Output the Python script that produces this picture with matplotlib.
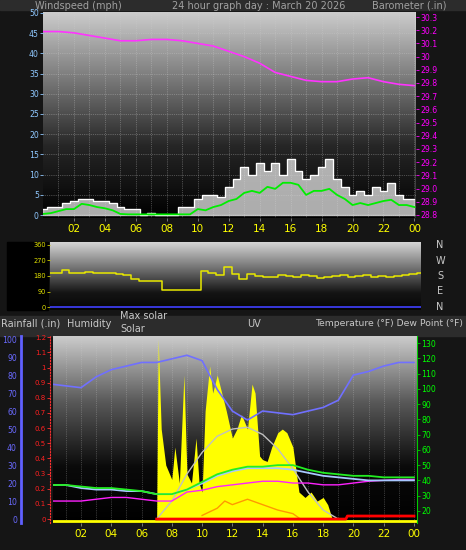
import numpy as np
import matplotlib
matplotlib.use("Agg")
import matplotlib.pyplot as plt

# ---------------- data ----------------
hours_h = list(range(25))
t_half = [i * 0.5 for i in range(49)]

barometer = [30.19, 30.19, 30.18, 30.16, 30.14, 30.12, 30.12, 30.13, 30.13, 30.12,
             30.10, 30.08, 30.04, 30.00, 29.95, 29.88, 29.85, 29.82, 29.81, 29.81,
             29.83, 29.84, 29.81, 29.79, 29.78]
wind_avg = [0.3, 0.5, 1.0, 1.5, 1.5, 2.8, 2.5, 2.0, 1.7, 1.2, 0.3, 0.2, 0.2, 0.2, 0.2, 0.2,
            0.2, 0.2, 0.2, 0.2, 1.5, 1.2, 2.0, 2.5, 3.5, 4.0, 5.5, 6.0, 5.5, 7.0, 6.5, 8.0,
            8.0, 7.5, 5.0, 6.0, 6.0, 6.5, 5.0, 4.0, 2.5, 3.0, 2.5, 3.0, 3.5, 3.8, 2.5, 2.5, 2.0]
wind_gust = [1.5, 2.0, 2.0, 3.0, 3.5, 4.0, 4.0, 3.5, 3.5, 3.0, 2.0, 1.5, 1.5, 0.0, 0.5, 0.0,
             0.0, 0.0, 2.0, 2.0, 4.0, 5.0, 5.0, 4.5, 7.0, 9.0, 12.0, 10.0, 13.0, 11.0, 13.0, 10.0,
             14.0, 11.0, 9.0, 10.0, 12.0, 14.0, 9.0, 7.0, 5.0, 6.0, 5.0, 7.0, 6.0, 8.0, 5.0, 4.0, 4.0]
wind_dir = [200, 195, 215, 200, 200, 205, 195, 200, 195, 190, 185, 160, 150, 150, 150, 100,
            100, 100, 100, 100, 210, 200, 185, 230, 190, 160, 190, 180, 175, 175, 185, 180,
            175, 185, 180, 170, 175, 180, 185, 175, 180, 185, 175, 180, 175, 180, 185, 190, 195]

humidity = [75, 74, 73, 79, 83, 85, 87, 87, 89, 91, 88, 72, 60, 55, 60, 59, 58, 60, 62, 66,
            80, 82, 85, 87, 87]
temperature = [37, 37, 36, 35, 35, 34, 33, 31, 31, 34, 39, 44, 47, 49, 49, 50, 50, 47, 45, 44,
               43, 43, 42, 42, 42]
dew_point = [37, 37, 35, 34, 34, 33, 33, 31, 31, 34, 38, 43, 46, 48, 48, 48, 47, 45, 43, 42,
             41, 40, 40, 40, 40]
magenta_pct = [10, 10, 10, 11, 12, 12, 11, 10, 10, 15, 16, 18, 19, 20, 21, 21, 20, 20, 19, 19,
               20, 21, 21.5, 22, 22]

solar_t = [0, 7.0, 7.1, 7.3, 7.6, 8.0, 8.2, 8.5, 8.8, 9.0, 9.3, 9.6, 9.8, 10.0, 10.2, 10.5,
           10.7, 11.0, 11.3, 11.6, 12.0, 12.3, 12.6, 13.0, 13.3, 13.5, 13.8, 14.0, 14.3, 14.6,
           15.0, 15.3, 15.6, 16.0, 16.4, 16.8, 17.2, 17.6, 18.0, 18.3, 18.6, 24]
solar_pct = [0, 0, 100, 50, 30, 22, 40, 20, 80, 25, 20, 45, 20, 15, 60, 85, 70, 80, 70, 60,
             45, 50, 58, 50, 75, 70, 35, 33, 32, 40, 48, 50, 48, 40, 15, 12, 15, 10, 12, 8, 0, 0]
maxsolar_t = [7, 8, 9, 10, 11, 12, 13, 14, 15, 16, 17, 18, 19]
maxsolar_pct = [0, 10, 25, 37, 46, 50, 51, 47, 39, 28, 15, 5, 0]
uv_t = [10, 11, 11.5, 12, 13, 14, 15, 16, 16.5]
uv_pct = [2, 6, 10, 8, 11, 8, 5, 3, 0]
rain_t = [7, 19.5, 19.6, 24]
rain_in = [0, 0, 0.02, 0.02]

xtick_labels = ["02", "04", "06", "08", "10", "12", "14", "16", "18", "20", "22", "00"]
xtick_pos = [2, 4, 6, 8, 10, 12, 14, 16, 18, 20, 22, 24]

# ---------------- figure ----------------
W, H = 466, 550
fig = plt.figure(figsize=(W / 100, H / 100), dpi=100, facecolor="#151515")

def fr(x0, y0, x1, y1):
    return [x0 / W, 1 - y1 / H, (x1 - x0) / W, (y1 - y0) / H]

def gradient(ax, stops):
    g = np.interp(np.linspace(0, 1, 256), [s[0] for s in stops], [s[1] for s in stops])
    img = np.stack([g, g, g], axis=-1)[:, None, :].repeat(2, axis=1)
    ax.imshow(img, extent=[0, 1, 0, 1], transform=ax.transAxes, aspect="auto", zorder=0,
              origin="lower")

TXT = "#c8c8c8"
fs = 5.6

# header strips
fig.patches.append(plt.Rectangle((0, 1 - 10 / H), 1, 10 / H, transform=fig.transFigure,
                                 color="#2c2c2c", zorder=-1))
fig.patches.append(plt.Rectangle((0, 1 - 336 / H), 1, 20 / H, transform=fig.transFigure,
                                 color="#2c2c2c", zorder=-1))
fig.patches.append(plt.Rectangle((7 / W, 1 - 310 / H), 41 / W, 68 / H, transform=fig.transFigure,
                                 color="black", zorder=-1))
fig.text(35 / W, 1 - 6 / H, "Windspeed (mph)", color="#a0a0a0", fontsize=7, va="center")
fig.text(172 / W, 1 - 6 / H, "24 hour graph day : March 20 2026", color="#a0a0a0", fontsize=7, va="center")
fig.text(372 / W, 1 - 6 / H, "Barometer (.in)", color="#a0a0a0", fontsize=7, va="center")
fig.text(1 / W, 1 - 324 / H, "Rainfall (.in)", color=TXT, fontsize=7, va="center")
fig.text(67 / W, 1 - 324 / H, "Humidity", color=TXT, fontsize=7, va="center")
fig.text(120 / W, 1 - 316 / H, "Max solar", color=TXT, fontsize=7, va="center")
fig.text(120 / W, 1 - 329 / H, "Solar", color=TXT, fontsize=7, va="center")
fig.text(247 / W, 1 - 324 / H, "UV", color=TXT, fontsize=7, va="center")
fig.text(463 / W, 1 - 324 / H, "Temperature (°F) Dew Point (°F)", color=TXT, fontsize=6.7,
         va="center", ha="right")

def style(ax):
    for s in ax.spines.values():
        s.set_visible(False)
    ax.tick_params(length=2, width=0.6, labelsize=fs, pad=1)

# ---------- top panel ----------
ax1 = fig.add_axes(fr(43, 12, 416, 218))
gradient(ax1, [(0, 0.0), (0.35, 0.15), (1, 0.8)])
ax1.set_xlim(0, 24.1)
ax1.set_ylim(-0.7, 50.2)
style(ax1)
ax1.set_yticks(range(0, 51, 5))
ax1.tick_params(axis="y", colors="#8fc8ff", labelcolor="#8fc8ff")
ax1.set_xticks(xtick_pos)
ax1.set_xticklabels(xtick_labels, fontsize=7.5)
ax1.tick_params(axis="x", colors="#888888", labelcolor="yellow", pad=2)
for h in range(1, 25):
    ax1.axvline(h, color="#d0d0d0", ls=":", lw=0.5, alpha=0.6, zorder=1)
for v in range(0, 51, 5):
    ax1.axhline(v, color="#d0d0d0", ls=":", lw=0.5, alpha=0.6, zorder=1)
ax1.fill_between(t_half, 0, wind_gust, step="mid", color="#d8d8d8", alpha=0.8, zorder=2)
ax1.step(t_half, wind_gust, where="mid", color="white", lw=0.8, zorder=3)
ax1.plot(t_half, wind_avg, color="#00ee00", lw=1.3, zorder=4)
ax1.axvline(24.1, color="white", lw=1)
ax1b = ax1.twinx()
ax1b.set_ylim(28.777, 30.338)
style(ax1b)
ax1b.set_yticks([round(28.8 + 0.1 * i, 1) for i in range(16)])
ax1b.set_yticklabels([f"{28.8 + 0.1 * i:.1f}" if i != 12 else "30" for i in range(16)])
ax1b.tick_params(axis="y", colors="#ff00ff", labelcolor="#ff00ff")
ax1b.plot(hours_h, barometer, color="#ff33ff", lw=1.2)
ax1b.set_xlim(0, 24.1)

# ---------- middle panel ----------
ax2 = fig.add_axes(fr(50, 242, 421, 310))
gradient(ax2, [(0, 0.02), (0.25, 0.08), (1, 0.85)])
ax2.set_xlim(0, 24)
ax2.set_ylim(-17, 377)
style(ax2)
ax2.set_xticks([])
ax2.set_yticks([0, 90, 180, 270, 360])
ax2.tick_params(axis="y", colors="#c8c800", labelcolor="#e0e000", labelsize=4.8)
ax2.step(t_half, wind_dir, where="mid", color="#e8e800", lw=1.1)
ax2.axhline(0, color="#4040ff", lw=1.2)
for i, c in enumerate(["N", "E", "S", "W", "N"]):
    fig.text(440 / W, 1 - (307 - i * 15.5) / H, c, color=TXT, fontsize=7, ha="center", va="center")

# ---------- bottom panel ----------
ax3 = fig.add_axes(fr(53, 336, 417, 523))
gradient(ax3, [(0, 0.0), (0.3, 0.04), (0.65, 0.35), (1, 0.8)])
ax3.set_xlim(0.15, 24.2)
ax3.set_ylim(-2.2, 101.7)
style(ax3)
ax3.spines["left"].set_visible(True)
ax3.spines["left"].set_position(("outward", 23))
ax3.spines["left"].set_color("#6060ff")
ax3.spines["left"].set_linewidth(2)
ax3.set_yticks(range(0, 101, 10))
ax3.tick_params(axis="y", colors="#6060ff", labelcolor="#6a6aff", length=0, pad=3)
ax3.set_xticks(xtick_pos)
ax3.set_xticklabels(xtick_labels, fontsize=7.5)
ax3.tick_params(axis="x", colors="#888888", labelcolor="yellow", pad=2)
for h in range(1, 25):
    ax3.axvline(h, color="#d0d0d0", ls=":", lw=0.5, alpha=0.5, zorder=1)
ax3.fill_between(solar_t, 0, solar_pct, color="#ffff00", zorder=2, lw=0)
ax3.plot(maxsolar_t, maxsolar_pct, color="#c0c0c0", lw=1, zorder=3)
ax3.plot(uv_t, uv_pct, color="#ff9900", lw=1, zorder=3)
ax3.plot(hours_h, magenta_pct, color="#ff22ff", lw=1, zorder=4)
ax3.plot(hours_h, humidity, color="#7070ff", lw=1.2, zorder=4)
ax3.axhline(-1.2, color="#ffff00", lw=2, zorder=3)

ax3t = ax3.twinx()
ax3t.set_ylim(12.1, 134.6)
ax3t.set_xlim(0.15, 24.2)
style(ax3t)
ax3t.spines["right"].set_visible(True)
ax3t.spines["right"].set_color("#00cc00")
ax3t.set_yticks(range(20, 131, 10))
ax3t.tick_params(axis="y", colors="#00cc00", labelcolor="#00ff00")
ax3t.plot(hours_h, dew_point, color="#a8c8ff", lw=1.3, zorder=4)
ax3t.plot(hours_h, temperature, color="#22ee22", lw=1.3, zorder=5)

ax3r = ax3.twinx()
ax3r.set_ylim(-0.026, 1.208)
ax3r.set_xlim(0.15, 24.2)
style(ax3r)
ax3r.yaxis.set_ticks_position("left")
ax3r.spines["left"].set_visible(True)
ax3r.spines["left"].set_color("#ff3030")
ax3r.spines["left"].set_linestyle(":")
ax3r.spines["left"].set_position(("outward", 2))
ax3r.set_yticks([round(0.1 * i, 1) for i in range(13)])
ax3r.set_yticklabels(["0"] + [f"{0.1 * i:g}" for i in range(1, 13)])
ax3r.tick_params(axis="y", colors="#ff3030", labelcolor="#ff2020", length=2, pad=1, labelsize=5)
ax3r.plot(rain_t, rain_in, color="#ff0000", lw=2, zorder=5)

fig.savefig("out.png", dpi=100, facecolor=fig.get_facecolor())
